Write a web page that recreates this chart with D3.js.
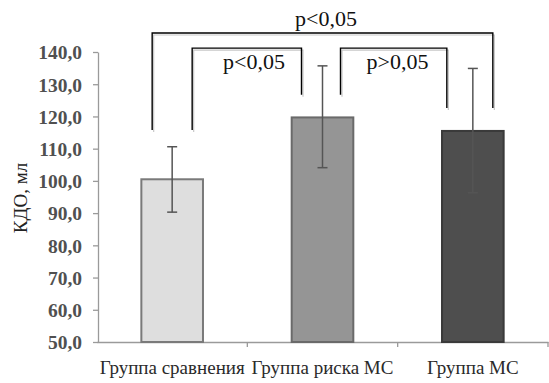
<!DOCTYPE html>
<html><head><meta charset="utf-8">
<script src="https://cdn.jsdelivr.net/npm/d3@7"></script>
<style>
body{margin:0;background:#fff;}
svg{display:block;}
</style></head>
<body><svg id="c" width="549" height="383"></svg>
<script>
const categories = ["Группа сравнения", "Группа риска МС", "Группа МС"];
const values = [100.5, 119.7, 115.5];
const errLow = [90.3, 104.1, 96.3];
const errHigh = [110.6, 135.7, 134.9];
const yTicks = [50, 60, 70, 80, 90, 100, 110, 120, 130, 140];
const fills = ["#dedede", "#959595", "#4e4e4e"];
const strokes = ["#7a7a7a", "#6a6a6a", "#3a3a3a"];
const yLabel = "КДО, мл";
// brackets: from/to category with px offset, top value, end values, label
const brackets = [
  {a:0, da:-20, b:2, db:20, top:145.9, endA:115.8, endB:122.6, label:"p<0,05"},
  {a:0, da:20, b:1, db:-21, top:141.2, endA:115.8, endB:126.7, label:"p<0,05"},
  {a:1, da:18, b:2, db:-26, top:141.2, endA:126.7, endB:122.6, label:"p>0,05"}
];
const FONT = "Liberation Serif";

const svg = d3.select("#c");
const x = d3.scaleBand().domain(categories).range([97, 548]).paddingInner(0.59).paddingOuter(0.295);
const y = d3.scaleLinear().domain([50, 140]).range([342, 52]);
const fmt = d => d.toFixed(1).replace(".", ",");

// y axis
const ya = svg.append("g").attr("transform", "translate(98,0)")
  .call(d3.axisLeft(y).tickValues(yTicks).tickSize(5).tickSizeOuter(0).tickFormat(fmt));
ya.select(".domain").attr("stroke", "#9a9a9a").attr("stroke-width", 1.3);
ya.selectAll(".tick line").attr("stroke", "#9a9a9a").attr("stroke-width", 1.3);
ya.selectAll(".tick text").attr("x", -16).attr("dy", "0.35em")
  .attr("font-size", 19.5).attr("fill", "#505050").attr("font-weight", "bold")
  .style("font-family", FONT);

// x axis line + boundary ticks
const xa = svg.append("g").attr("transform", "translate(0,342)")
  .call(d3.axisBottom(x).tickSize(0).tickSizeOuter(0));
xa.select(".domain").attr("stroke", "#9a9a9a").attr("stroke-width", 1.3);
xa.selectAll(".tick text").attr("y", 0).attr("dy", 32).attr("font-size", 19)
  .attr("fill", "#2a2a2a").style("font-family", FONT);
const step = x.step();
categories.forEach((c, i) => {
  const bx = x(c) + x.bandwidth() / 2 + step / 2;
  svg.append("line").attr("x1", bx).attr("x2", bx).attr("y1", 342).attr("y2", 347)
    .attr("stroke", "#9a9a9a").attr("stroke-width", 1.3);
});

// bars
svg.append("g").selectAll("rect").data(categories).join("rect")
  .attr("x", d => x(d)).attr("width", x.bandwidth())
  .attr("y", (d, i) => y(values[i])).attr("height", (d, i) => y(50) - y(values[i]))
  .attr("fill", (d, i) => fills[i]).attr("stroke", (d, i) => strokes[i]).attr("stroke-width", 2);

// error bars
const eg = svg.append("g").attr("stroke", "#555").attr("stroke-width", 1.5);
categories.forEach((c, i) => {
  const cx = x(c) + x.bandwidth() / 2;
  eg.append("line").attr("x1", cx).attr("x2", cx).attr("y1", y(errLow[i])).attr("y2", y(errHigh[i]));
  eg.append("line").attr("x1", cx - 5).attr("x2", cx + 5).attr("y1", y(errLow[i])).attr("y2", y(errLow[i]));
  eg.append("line").attr("x1", cx - 5).attr("x2", cx + 5).attr("y1", y(errHigh[i])).attr("y2", y(errHigh[i]));
});

// brackets
brackets.forEach(b => {
  const xa_ = x(categories[b.a]) + x.bandwidth() / 2 + b.da;
  const xb_ = x(categories[b.b]) + x.bandwidth() / 2 + b.db;
  const pts = [[xa_, y(b.endA)], [xa_, y(b.top)], [xb_, y(b.top)], [xb_, y(b.endB)]];
  svg.append("path").attr("d", d3.line()(pts.map(p => [p[0] + 1.5, p[1] + 2])))
    .attr("fill", "none").attr("stroke", "#c8c8c8").attr("stroke-width", 1.2);
  svg.append("path").attr("d", d3.line()(pts)).attr("fill", "none")
    .attr("stroke", "#000").attr("stroke-width", 1.4);
});
// bracket labels
const labelPos = [[326, 25.5], [254, 69], [397.5, 68.5]];
brackets.forEach((b, i) => {
  svg.append("text").attr("x", labelPos[i][0]).attr("y", labelPos[i][1])
    .attr("text-anchor", "middle").attr("font-size", 22).attr("fill", "#111")
    .style("font-family", FONT).text(b.label);
});

// y label
svg.append("text").attr("transform", "translate(27,198) rotate(-90)")
  .attr("text-anchor", "middle").attr("font-size", 19).attr("fill", "#222")
  .style("font-family", FONT).text(yLabel);
</script></body></html>
